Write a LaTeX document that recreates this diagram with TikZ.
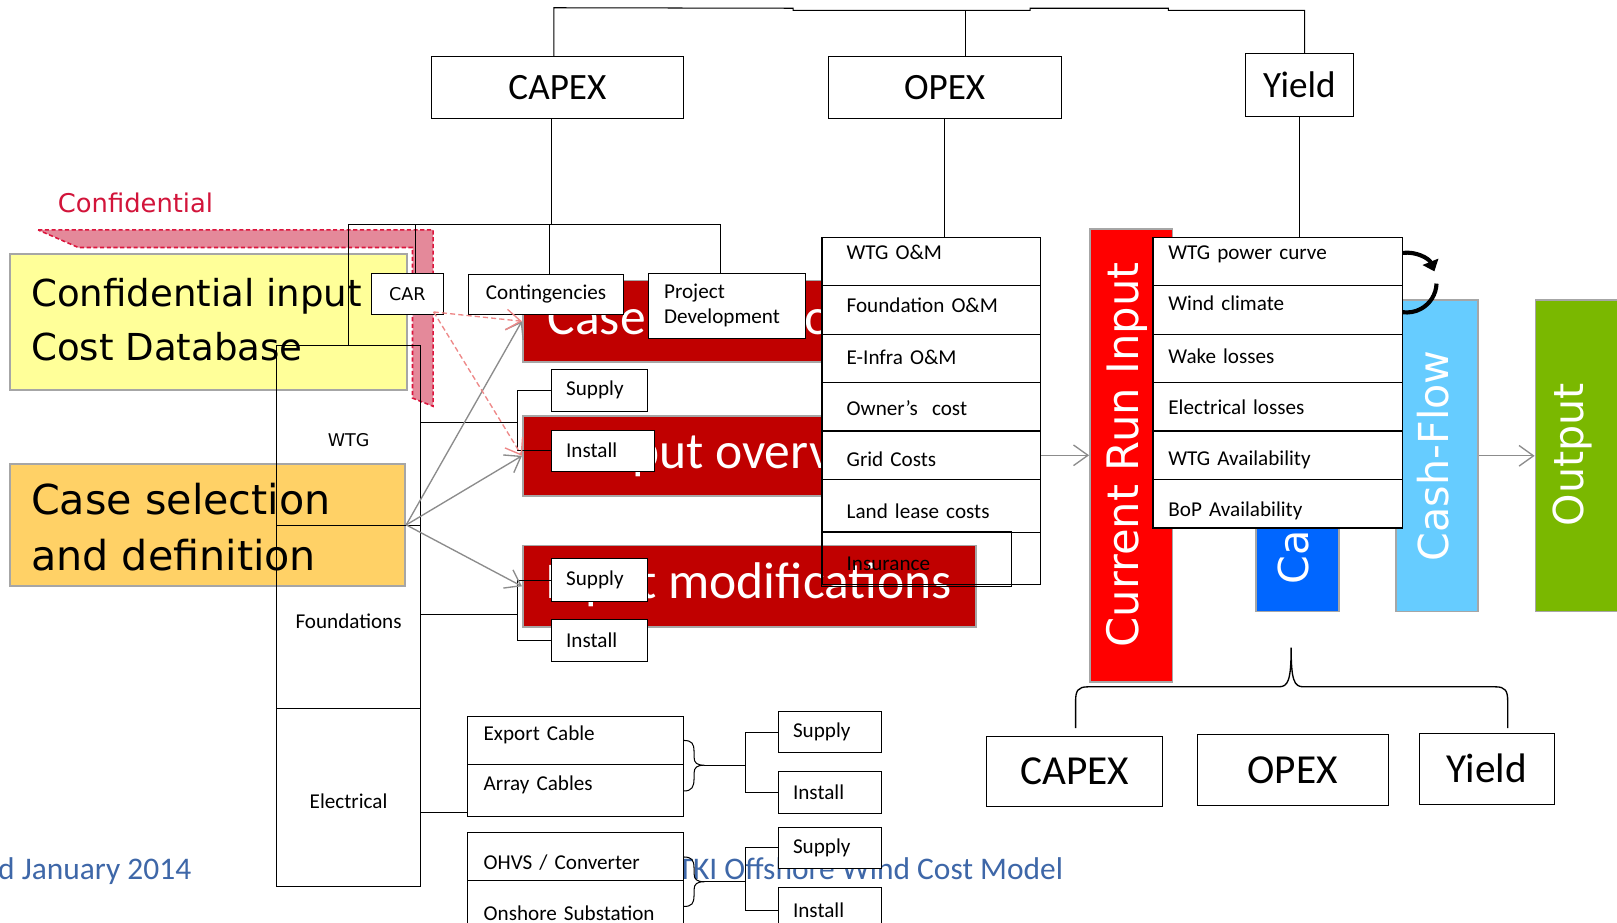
\documentclass[tikz,border=0pt]{standalone}
\usepackage{fontspec}
\setmainfont{Carlito}
\newfontfamily\verd{DejaVu Sans}
\usetikzlibrary{arrows.meta}

\definecolor{capred}{HTML}{C00000}
\definecolor{runred}{HTML}{FF0000}
\definecolor{calcblue}{HTML}{0066FF}
\definecolor{cashblue}{HTML}{66CCFF}
\definecolor{outgreen}{HTML}{7AB800}
\definecolor{dbyellow}{HTML}{FFFF99}
\definecolor{caseorange}{HTML}{FFD166}
\definecolor{confpink}{HTML}{E4899A}
\definecolor{confline}{HTML}{DC143C}
\definecolor{conftext}{HTML}{D2143A}
\definecolor{footblue}{HTML}{3E67A8}
\definecolor{edgegray}{HTML}{A6A6A6}
\definecolor{arrowgray}{HTML}{8C8C8C}
\definecolor{dasharrow}{HTML}{EE8888}

\newcommand{\fsz}[2]{\fontsize{#1}{#2}\selectfont}

\tikzset{
  wbox/.style={draw=black, fill=white, line width=1pt, inner sep=0pt, font=\fsz{20.5}{24}},
  lbox/.style={wbox, align=left},
  trow/.style={draw=black, fill=white, line width=1.2pt, inner ysep=0pt, align=left, font=\fsz{20.5}{24}},
  colbox/.style={link, inner sep=0pt, minimum width=140, text height=21pt, text depth=0pt},
  cbox/.style={draw=edgegray, line width=1.8pt, inner sep=0pt},
  vtext/.style={rotate=90, text=white, font=\verd\fsz{40}{48}, inner sep=0pt},
  redtext/.style={text=white, font=\fsz{50}{60}, inner sep=0pt},
  bigtext/.style={font=\verd\fsz{36}{44}, inner sep=0pt, anchor=base west},
  foot/.style={font=\fsz{30.5}{36}, text=footblue, inner sep=0pt, anchor=base west},
  link/.style={draw=black, line width=1pt},
  garrow/.style={draw=arrowgray, line width=1.3pt, -{Straight Barb[length=14pt,width=20pt]}},
  parrow/.style={draw=dasharrow, line width=1.3pt, dash pattern=on 5pt off 3pt, -{Straight Barb[length=14pt,width=20pt]}},
}

\begin{document}
\begin{tikzpicture}[x=1pt,y=-1pt]
  \fill[white] (0,0) rectangle (1568,895);
  \useasboundingbox (0,0) rectangle (1568,895);
  %footer
  \node[foot] (date) at (-2,853) {d January 2014};
  \node[foot] (title) at (657,853) {TKI Offshore Wind Cost Model};
  %confidential band
  \path[fill=confpink, draw=confline, line width=1.5pt, dash pattern=on 4pt off 2.5pt]
        (37,223) -- (420,223) -- (420,394) -- (400,386) -- (400,240) -- (76,240) -- cycle;
  \node[font=\verd\fsz{25}{30}, text=conftext, anchor=west, inner sep=0pt] (conf) at (56,197) {Confidential};
  %input boxes
  \node[cbox, fill=dbyellow, minimum width=385, minimum height=132] (db) at (202.5,312) {};
  \node[bigtext] (dbt1) at (30,297) {Confidential input};
  \node[bigtext] (dbt2) at (30,350) {Cost Database};
  \node[cbox, fill=caseorange, minimum width=383, minimum height=118] (cs) at (201.5,509) {};
  \node[bigtext, font=\verd\fsz{40}{48}] (cst1) at (30,499) {Case selection};
  \node[bigtext, font=\verd\fsz{40}{48}] (cst2) at (30,553) {and definition};
  %CAPEX column
  \node[colbox, minimum height=175, font=\verd\fsz{17}{20}] (wtg) at (338,422.5) {WTG};
  \node[colbox, minimum height=177, font=\fsz{20.5}{24}] (fnd) at (338,598.5) {Foundations};
  \node[colbox, minimum height=173, font=\fsz{20.5}{24}] (elec) at (338,773.5) {Electrical};
  %red boxes
  \node[cbox, fill=capred, minimum width=439, minimum height=79] (rb1) at (726.5,311.5) {};
  \node[redtext, anchor=base west] (rb1t) at (531,324) {Case definition};
  \node[cbox, fill=capred, minimum width=439, minimum height=78] (rb2) at (726.5,442) {};
  \node[redtext, anchor=base] (rb2t) at (726.5,454) {Input overview};
  \node[cbox, fill=capred, minimum width=439, minimum height=79] (rb3) at (726.5,568.5) {};
  \node[redtext, anchor=base] (rb3t) at (726,580) {Input modifications};
  %top level
  \node[wbox, minimum width=245, minimum height=60, font=\fsz{36}{43}] (capex) at (540.5,85) {CAPEX};
  \node[wbox, minimum width=226, minimum height=60, font=\fsz{36}{43}] (opex) at (916,85) {OPEX};
  \node[wbox, minimum width=104, minimum height=61, font=\fsz{36}{43}] (yieldt) at (1260,82.5) {Yield};
  %CAPEX items
  \node[wbox, minimum width=70, minimum height=40, font=\verd\fsz{17}{20}] (car) at (395,285) {CAR};
  \node[wbox, minimum width=151, minimum height=39] (cont) at (529.5,285.5) {Contingencies};
  \node[lbox, minimum width=152, minimum height=63, text width=122pt, inner xsep=15pt] (pd) at (705,296.5) {Project\\Development};
  \node[lbox, minimum width=93, minimum height=41, text width=65pt, inner xsep=14pt] (sup1) at (581.5,378.5) {Supply};
  \node[lbox, minimum width=100, minimum height=40, text width=72pt, inner xsep=14pt] (ins1) at (585,437) {Install};
  \node[lbox, minimum width=93, minimum height=41, text width=65pt, inner xsep=14pt] (sup2) at (581.5,562.5) {Supply};
  \node[lbox, minimum width=93, minimum height=40, text width=65pt, inner xsep=14pt] (ins2) at (581.5,621) {Install};
  \node[lbox, minimum width=100, minimum height=40, text width=72pt, inner xsep=14pt] (sup3) at (805,710) {Supply};
  \node[lbox, minimum width=100, minimum height=41, text width=72pt, inner xsep=14pt] (ins3) at (805,768.5) {Install};
  \node[lbox, minimum width=100, minimum height=40, text width=72pt, inner xsep=14pt] (sup4) at (805,822) {Supply};
  \node[lbox, minimum width=100, minimum height=44, text width=72pt, inner xsep=14pt] (ins4) at (805,883) {Install};
  %electrical tables
  \node[trow, minimum width=210, text width=178pt, inner xsep=16pt, text height=23pt, text depth=23pt] (ex1) at (558,718) {Export Cable};
  \node[trow, minimum width=210, text width=178pt, inner xsep=16pt, text height=26pt, text depth=25pt] (ex2) at (558,766.5) {Array Cables};
  \node[trow, minimum width=210, text width=178pt, inner xsep=16pt, text height=36pt, text depth=11pt] (oh1) at (558,830.5) {OHVS / Converter};
  \node[trow, minimum width=210, text width=178pt, inner xsep=16pt, text height=39pt, text depth=12pt] (oh2) at (558,879.5) {Onshore Substation};
  %model blocks
  \node[cbox, fill=runred, minimum width=80, minimum height=439] (cri) at (1097,441.5) {};
  \node[vtext, font=\verd\fsz{42}{50}] (crit) at (1093,441) {Current Run Input};
  \node[cbox, fill=calcblue, minimum width=80, minimum height=303] (ca) at (1258,441.5) {};
  \node[vtext, anchor=west] (cat) at (1254,567) {Calculation};
  \node[cbox, fill=cashblue, minimum width=79, minimum height=302] (cf) at (1393.5,442) {};
  \node[vtext] (cft) at (1390,442) {Cash-Flow};
  \node[cbox, fill=outgreen, minimum width=86, minimum height=302] (out) at (1532,442) {};
  \node[vtext] (outt) at (1525,441) {Output};
  %OPEX table
  \node[trow, minimum width=212, text width=164pt, inner xsep=24pt, text height=22pt, text depth=25pt] (o1) at (903,253.5) {WTG O\&M};
  \node[trow, minimum width=212, text width=164pt, inner xsep=24pt, text height=26pt, text depth=21pt] (o2) at (903,300.5) {Foundation O\&M};
  \node[trow, minimum width=212, text width=164pt, inner xsep=24pt, text height=29pt, text depth=18pt] (o3) at (903,347.5) {E-Infra O\&M};
  \node[trow, minimum width=212, text width=164pt, inner xsep=24pt, text height=32pt, text depth=15pt] (o4) at (903,394.5) {Owner’s~ cost};
  \node[trow, minimum width=212, text width=164pt, inner xsep=24pt, text height=34pt, text depth=13pt] (o5) at (903,441.5) {Grid Costs};
  \node[trow, minimum width=212, text width=164pt, inner xsep=24pt, text height=38pt, text depth=13pt] (o6) at (903,490.5) {Land lease costs};
  \node[trow, fill=none, minimum width=212, text width=164pt, inner xsep=24pt, text height=37pt, text depth=14pt] (o7) at (903,541.5) {Insurance};
  \draw[link] (o7.north west) rectangle (981,569);
  %yield table
  \node[trow, minimum width=242, text width=212pt, inner xsep=15pt, text height=22pt, text depth=25pt] (y1) at (1239,253.5) {WTG power curve};
  \node[trow, minimum width=242, text width=212pt, inner xsep=15pt, text height=24pt, text depth=23pt] (y2) at (1239,300.5) {Wind climate};
  \node[trow, minimum width=242, text width=212pt, inner xsep=15pt, text height=28pt, text depth=19pt] (y3) at (1239,347.5) {Wake losses};
  \node[trow, minimum width=242, text width=212pt, inner xsep=15pt, text height=31pt, text depth=16pt] (y4) at (1239,394.5) {Electrical losses};
  \node[trow, minimum width=242, text width=212pt, inner xsep=15pt, text height=33pt, text depth=14pt] (y5) at (1239,441.5) {WTG Availability};
  \node[trow, minimum width=242, text width=212pt, inner xsep=15pt, text height=36pt, text depth=11pt] (y6) at (1239,488.5) {BoP Availability};
  %results
  \node[wbox, minimum width=170, minimum height=68, font=\fsz{40}{48}] (capex2) at (1042,748) {CAPEX};
  \node[wbox, minimum width=185, minimum height=69, font=\fsz{40}{48}] (opex2) at (1253.5,746.5) {OPEX};
  \node[wbox, minimum width=131, minimum height=69, font=\fsz{40}{48}] (yield2) at (1441.5,745.5) {Yield};

  %top connector
  \draw[link] ([xshift=-3.5]capex.north) -- ++(0,-47) -- (769,8) -- (769,10) -- (999,10) -- (999,8)
        -- (1133,8) -- (1133,10) -- (1265,10) -- ([xshift=5]yieldt.north);
  \draw[link] ([xshift=20]opex.north) -- ++(0,-45);
  \draw[link] (opex.south) -- (opex.south |- o1.north);
  \draw[link] (yieldt.south) -- (yieldt.south |- y1.north);
  %CAPEX tree
  \coordinate (bar) at (535,218);
  \coordinate (pdtop) at ([xshift=-6]pd.north);
  \coordinate (cartop) at ([xshift=8]car.north);
  \coordinate (conttop) at ([xshift=3.5]cont.north);
  \draw[link] ([xshift=-5.5]capex.south) -- (bar);
  \draw[link] (wtg.north) -- (wtg.north |- bar) -- (pdtop |- bar) -- (pdtop);
  \draw[link] (cartop |- bar) -- (cartop);
  \draw[link] (conttop |- bar) -- (conttop);
  %supply and install
  \coordinate (jw) at (502,410);
  \draw[link] (wtg.east |- jw) -- (jw) |- (sup1.west);
  \draw[link] (jw) |- (ins1.west);
  \coordinate (jf) at (502,596);
  \draw[link] (fnd.east |- jf) -- (jf) |- (sup2.west);
  \draw[link] (jf) |- (ins2.west);
  \draw[link] (elec.east |- 0,788) -- (ex2.west |- 0,788);
  %braces
  \coordinate (bx) at (683,742);
  \coordinate (jx) at (723,742);
  \draw[link] (663,718) .. controls (671,718) and (673,721) .. (673,729) -- (673,734)
        .. controls (673,740) and (676,742) .. (bx) .. controls (676,742) and (673,744) .. (673,750)
        -- (673,755) .. controls (673,763) and (671,767) .. (663,767);
  \draw[link] (bx) -- (jx) |- (sup3.west);
  \draw[link] (jx) |- (ins3.west);
  \coordinate (bo) at (683,855);
  \coordinate (jo) at (723,855);
  \draw[link] (663,831) .. controls (671,831) and (673,834) .. (673,842) -- (673,847)
        .. controls (673,853) and (676,855) .. (bo) .. controls (676,855) and (673,857) .. (673,863)
        -- (673,868) .. controls (673,876) and (671,879) .. (663,879);
  \draw[link] (bo) -- (jo) |- (sup4.west);
  \draw[link] (jo) |- (ins4.west);
  \coordinate (bt) at (1252,628);
  \coordinate (bl) at (1043,706);
  \coordinate (br) at (1462,706);
  \draw[link, line width=1.3pt] (bl) -- (1043,680) .. controls (1043,670) and (1045,666) .. (1055,666) -- (1240,666)
        .. controls (1249,666) and (1252,660) .. (bt) .. controls (1252,660) and (1255,666) .. (1264,666)
        -- (1450,666) .. controls (1460,666) and (1462,670) .. (1462,680) -- (br);
  %flow arrows
  \draw[garrow] (cs.east) -- (rb1.west);
  \draw[garrow] (cs.east) -- (rb2.west);
  \draw[garrow] (cs.east) -- (rb3.west);
  \coordinate (cp) at ([xshift=-10,yshift=3]car.south east);
  \draw[parrow] (cp) -- (rb1.west);
  \draw[parrow] (cp) -- (rb2.west);
  \draw[garrow] (o5.east) -- (cri.west |- o5.east);
  \draw[garrow] (cf.east) -- (out.west);
  %loop
  \coordinate (cyc) at (1364,274);
  \draw[line width=4pt, -{Triangle[length=10pt,width=16pt]}] (cyc) ++(-98:29) arc[start angle=-98, end angle=-22, radius=29];
  \draw[line width=4pt] (cyc) ++(2:29) arc[start angle=2, end angle=98, radius=29];
\end{tikzpicture}
\end{document}
